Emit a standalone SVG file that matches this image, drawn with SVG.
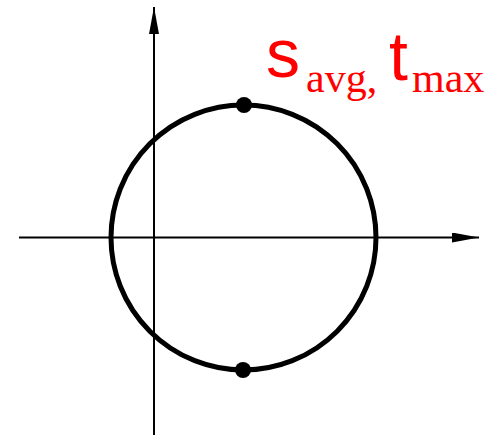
<svg xmlns="http://www.w3.org/2000/svg" width="491" height="435" viewBox="0 0 491 435">
  <style>
    .axis { stroke: #000; stroke-width: 2; fill: none; }
    .circ { stroke: #000; stroke-width: 5; fill: none; }
    .dot { fill: #000; }
    .big { font-family: "Liberation Sans", Arial, sans-serif; font-size: 68px; fill: #ff0000; }
    .sub { font-family: "Liberation Serif", "Times New Roman", serif; font-size: 42px; fill: #ff0000; }
  </style>
  <defs>
    <marker id="arrow" viewBox="0 0 27 10" refX="27" refY="5" markerWidth="27" markerHeight="10" markerUnits="userSpaceOnUse" orient="auto">
      <path d="M0,0 L27,5 L0,10 Z" fill="#000"/>
    </marker>
  </defs>
  <rect width="491" height="435" fill="#fff"/>
  <g id="connectors">
    <line class="axis" x1="19" y1="237.5" x2="479" y2="237.5" marker-end="url(#arrow)"/>
    <line class="axis" x1="154" y1="435" x2="154" y2="7" marker-end="url(#arrow)"/>
  </g>
  <g id="circle">
    <circle class="circ" cx="243.5" cy="237.5" r="132.5"/>
  </g>
  <g id="top-point">
    <circle class="dot" cx="244" cy="105" r="8"/>
  </g>
  <g id="bottom-point">
    <circle class="dot" cx="243" cy="370" r="8"/>
  </g>
  <g id="label">
    <text class="big" x="266" y="77">s</text>
    <text class="sub" x="306" y="92">avg,</text>
    <text class="big" x="389" y="80">t</text>
    <text class="sub" x="412" y="92">max</text>
  </g>
</svg>
